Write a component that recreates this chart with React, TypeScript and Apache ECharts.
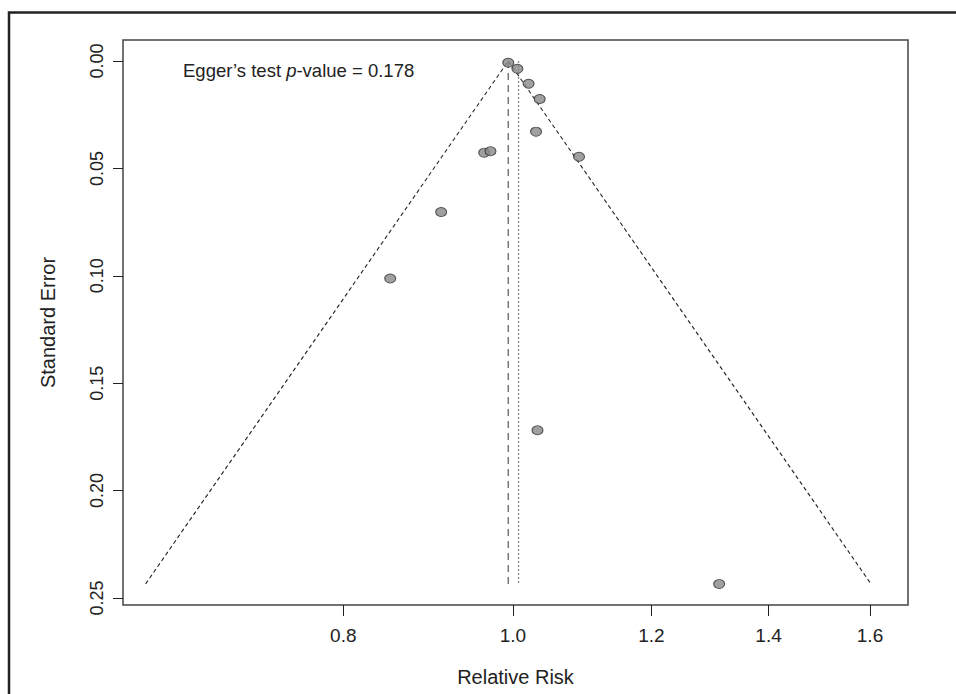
import React, { useEffect, useRef } from "react";
import * as echarts from "echarts";

// Study estimates (relative risk) and their standard errors
const studyRR = [0.994, 1.006, 1.021, 1.036, 1.031, 0.963, 0.971, 1.091, 0.91, 0.851, 1.033, 1.312];
const studySE = [0.0008, 0.0036, 0.0106, 0.0177, 0.0329, 0.0427, 0.042, 0.0446, 0.0703, 0.1013, 0.1719, 0.2435];
// Summary estimate (dashed line, funnel apex) and the dotted reference line
const pooledRR = 0.994;
const dottedRR = 1.0075;
const xTickValues = [0.8, 1.0, 1.2, 1.4, 1.6];
const yTickValues = [0, 0.05, 0.1, 0.15, 0.2, 0.25];
const eggerPValue = "0.178";

const FONT = "Liberation Sans, Arial, sans-serif";

export default function App() {
  const ref = useRef<HTMLDivElement>(null);

  useEffect(() => {
    if (!ref.current) return;
    const chart = echarts.init(ref.current, undefined, { renderer: "svg" });
    const lp = Math.log(pooledRR);
    const ld = Math.log(dottedRR);
    const maxSE = Math.max(...studySE);
    const funnel = [
      [lp - 1.96 * maxSE, maxSE],
      [lp, 0],
      [lp + 1.96 * maxSE, maxSE],
    ];
    const points = studyRR.map((rr, i) => [Math.log(rr), studySE[i]]);

    chart.setOption({
      animation: false,
      backgroundColor: "#ffffff",
      grid: {
        left: 123,
        right: 48,
        top: 40,
        bottom: 89,
        show: true,
        borderColor: "#444",
        borderWidth: 1.5,
        containLabel: false,
      },
      xAxis: {
        type: "value",
        min: -0.513,
        max: 0.52,
        name: "Relative Risk",
        nameLocation: "middle",
        nameGap: 62,
        nameTextStyle: { fontFamily: FONT, fontSize: 20, color: "#222" },
        axisLine: { show: false, onZero: false },
        splitLine: { show: false },
        axisTick: {
          show: true,
          length: 11,
          customValues: xTickValues.map((v) => Math.log(v)),
          lineStyle: { color: "#222", width: 1 },
        },
        axisLabel: {
          customValues: xTickValues.map((v) => Math.log(v)),
          formatter: (v: number) => Math.exp(v).toFixed(1),
          fontFamily: FONT,
          fontSize: 19,
          color: "#222",
          margin: 21,
        },
      },
      yAxis: {
        type: "value",
        inverse: true,
        min: -0.00978,
        max: 0.2533,
        name: "Standard Error",
        nameLocation: "middle",
        nameRotate: 90,
        nameGap: 65,
        nameTextStyle: { fontFamily: FONT, fontSize: 20, color: "#222" },
        axisLine: { show: false, onZero: false },
        splitLine: { show: false },
        axisTick: {
          show: true,
          length: 10,
          customValues: yTickValues,
          lineStyle: { color: "#222", width: 1 },
        },
        axisLabel: {
          customValues: yTickValues,
          formatter: (v: number) => v.toFixed(2),
          rotate: 90,
          fontFamily: FONT,
          fontSize: 18,
          color: "#222",
          margin: 17,
        },
      },
      graphic: [
        {
          type: "rect",
          shape: { x: 9, y: 12.5, width: 1200, height: 1000 },
          style: { fill: "none", stroke: "#222", lineWidth: 2.5 },
          silent: true,
        },
        {
          type: "text",
          left: 183,
          top: 61,
          style: {
            text: "Egger’s test {i|p}-value = " + eggerPValue,
            fontFamily: FONT,
            fontSize: 18.5,
            fill: "#222",
            rich: {
              i: { fontFamily: FONT, fontSize: 18.5, fontStyle: "italic", fill: "#222" },
            },
          },
        },
      ],
      series: [
        {
          type: "line",
          data: funnel,
          symbol: "none",
          lineStyle: { color: "#222", width: 1.1, type: [4, 3] },
          silent: true,
          z: 2,
        },
        {
          type: "line",
          data: [
            [lp, 0],
            [lp, maxSE],
          ],
          symbol: "none",
          lineStyle: { color: "#666", width: 1.3, type: [7, 5] },
          silent: true,
          z: 2,
        },
        {
          type: "line",
          data: [
            [ld, 0],
            [ld, maxSE],
          ],
          symbol: "none",
          lineStyle: { color: "#888", width: 1.3, type: [2, 2] },
          silent: true,
          z: 2,
        },
        {
          type: "scatter",
          data: points,
          symbol: "circle",
          symbolSize: [11, 9],
          itemStyle: { color: "#888888", borderColor: "#333", borderWidth: 1 },
          z: 3,
        },
      ],
    });
    return () => chart.dispose();
  }, []);

  return <div ref={ref} style={{ width: 956, height: 694, position: "absolute", left: 0, top: 0 }} />;
}
